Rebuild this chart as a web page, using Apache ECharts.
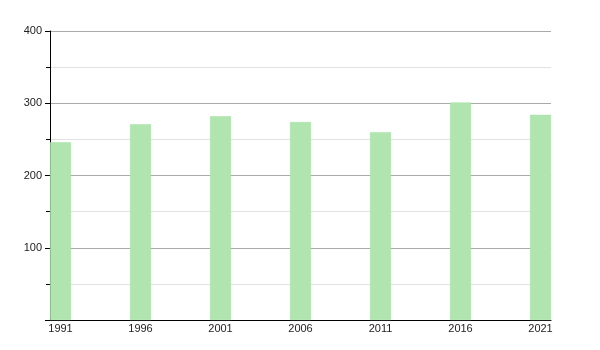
<!DOCTYPE html>
<html>
<head>
<meta charset="utf-8">
<script src="https://cdn.jsdelivr.net/npm/echarts@6/dist/echarts.min.js"></script>
<style>html,body{margin:0;padding:0;background:#fff}#c{width:600px;height:350px}</style>
</head>
<body>
<div id="c"></div>
<script>
const years = [1991, 1996, 2001, 2006, 2011, 2016, 2021];
const values = [246, 271, 282, 274, 260, 301, 284];
const yTicks = [100, 200, 300, 400];

const pad = 0.656;
const chart = echarts.init(document.getElementById('c'), null, {renderer: 'canvas'});
chart.setOption({
  animation: false,
  grid: {left: 50, right: 49, top: 31, bottom: 30, containLabel: false},
  xAxis: {
    type: 'value',
    min: years[0] - pad,
    max: years[years.length - 1] + pad,
    axisLine: {show: true, onZero: false, lineStyle: {color: '#000', width: 1}},
    axisTick: {show: false},
    splitLine: {show: false},
    axisLabel: {
      customValues: years,
      color: '#222', fontSize: 11, fontFamily: 'Liberation Sans, Arial, sans-serif',
      margin: 3,
      formatter: v => String(Math.round(v))
    }
  },
  yAxis: {
    type: 'value',
    min: 0, max: 400, interval: 100,
    axisLine: {show: true, lineStyle: {color: '#000', width: 1}},
    axisTick: {show: true, length: 5, lineStyle: {color: '#000'}},
    minorTick: {show: true, splitNumber: 2, length: 4, lineStyle: {color: '#000'}},
    splitLine: {show: true, lineStyle: {color: '#aaaaaa', width: 1}},
    minorSplitLine: {show: true, lineStyle: {color: '#e2e2e2', width: 1}},
    axisLabel: {
      color: '#222', fontSize: 11, fontFamily: 'Liberation Sans, Arial, sans-serif',
      margin: 8,
      formatter: v => (yTicks.indexOf(v) >= 0 ? String(v) : '')
    }
  },
  series: [{
    type: 'bar',
    data: years.map((y, i) => [y, values[i]]),
    barWidth: 21,
    itemStyle: {color: '#b0e5b0', borderColor: '#a6dea6', borderWidth: 0.5}
  }]
});
</script>
</body>
</html>
